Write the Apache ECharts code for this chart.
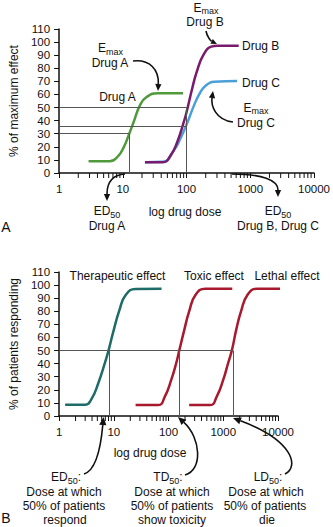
<!DOCTYPE html>
<html><head><meta charset="utf-8">
<script src="https://cdn.jsdelivr.net/npm/echarts@6/dist/echarts.min.js"></script>
<style>html,body{margin:0;padding:0;background:#fff}#c{width:333px;height:527px}</style>
</head><body><div id="c"></div>
<script>
const FONT = '"Liberation Sans", Arial, Helvetica, sans-serif';
const INK = '#111';

// ---- data ----
const xTickLabels = [1, 10, 100, 1000, 10000];
const yTickStep = 10;
const minorTicks = [2,3,4,5,6,7,8,9,20,30,40,50,60,70,80,90,200,300,400,500,600,700,800,900,2000,3000,4000,5000,6000,7000,8000,9000];

// Panel A: % of maximum effect vs dose
const drugADose   = [2.9, 6.2, 8.3, 10.4, 12.4, 14.8, 18.7, 23.6, 35.6, 88];
const drugAEffect = [9, 9, 12.5, 20, 29, 39, 52, 58, 61, 61];
const drugBDose   = [22.3, 42.4, 56.8, 71.7, 90.6, 101.8, 121, 144, 183, 244, 309, 658];
const drugBEffect = [8.2, 8.2, 13.7, 23.9, 39, 48, 63.4, 77, 90, 96.5, 97.3, 97.3];
const drugCDose   = [22.3, 42.4, 63.8, 80.5, 102, 128.6, 162, 205, 274, 622];
const drugCEffect = [8.2, 8.5, 17.6, 26.5, 38, 50.7, 61, 67.2, 69.7, 70.3];
const ed50A = 12.6, ed50BC = 100;
const levelA = 30, levelC = 36, levelB = 50;

// Panel B: % of patients responding vs dose
const therDose = [1.29, 3.0, 3.97, 5.2, 6.85, 8.07, 9.63, 12.7, 16.6, 25, 74.5];
const therPct  = [8.6, 8.6, 13.5, 25, 40.3, 50.5, 63.3, 81, 92.6, 97, 97.2];
const toxDose  = [25, 65, 85.5, 112, 138, 158, 194, 238, 312, 470, 1460];
const toxPct   = [8.4, 8.4, 14.8, 27.6, 40.3, 50.5, 65.8, 79.9, 92.6, 97.2, 97.2];
const lethDose = [238, 577, 759, 997, 1224, 1443, 1722, 2110, 2780, 4180, 13300];
const lethPct  = [8.4, 8.4, 14.8, 27.6, 40.3, 50.5, 65.8, 79.9, 92.6, 97.2, 97.2];
const ed50Ther = 8.1, td50 = 158, ld50 = 1500, levelPatients = 50;

// ---- helpers ----
const zip = (xs, ys) => xs.map((x, i) => [x, ys[i]]);
const axisLine = {show: true, lineStyle: {color: INK, width: 1.5}};
const measureCtx = document.createElement('canvas').getContext('2d');
function textWidth(s, size) { measureCtx.font = size + 'px ' + FONT; return measureCtx.measureText(s).width; }

function xAxisFor(grid) {
  return {type: 'log', logBase: 10, min: xTickLabels[0], max: xTickLabels[xTickLabels.length - 1], gridIndex: grid,
    axisLine, axisTick: {show: true, length: 5, lineStyle: {color: INK, width: 1}},
    axisLabel: {fontSize: 11.5, fontFamily: FONT, color: INK, margin: 10, formatter: v => String(Math.round(v))},
    splitLine: {show: false}};
}
function yAxisFor(grid, name) {
  return {type: 'value', min: 0, max: 110, interval: yTickStep, gridIndex: grid, name, nameLocation: 'middle', nameGap: 38,
    nameTextStyle: {fontSize: 12, fontFamily: FONT, color: INK},
    axisLine, axisTick: {show: true, length: 5, lineStyle: {color: INK, width: 1}},
    axisLabel: {fontSize: 11.5, fontFamily: FONT, color: INK, margin: 9}, splitLine: {show: false}};
}
function curve(name, grid, xs, ys, color, extra) {
  return Object.assign({type: 'line', name, xAxisIndex: grid, yAxisIndex: grid, data: zip(xs, ys), symbol: 'none',
    smooth: 0.5, lineStyle: {color, width: 2.5}, silent: true}, extra || {});
}
function refLines(segs) {
  return {silent: true, symbol: 'none', label: {show: false}, lineStyle: {color: '#555', width: 1, type: 'solid'},
    data: segs.map(s => [{coord: s[0]}, {coord: s[1]}])};
}
function minorTickSeries(grid) {
  return {type: 'custom', xAxisIndex: grid, yAxisIndex: grid, silent: true, clip: false,
    data: minorTicks.map(v => [v, 0]),
    renderItem: (params, api) => {
      const p = api.coord([api.value(0), api.value(1)]);
      return {type: 'line', shape: {x1: p[0], y1: p[1], x2: p[0], y2: p[1] + 5}, style: {stroke: INK, lineWidth: 1}};
    }};
}
function txt(x, y, text, opts) {
  const size = (opts && opts.fontSize) || 12;
  return {type: 'text', x, y, silent: true, style: Object.assign({text, fill: INK, fontSize: size, fontFamily: FONT, lineHeight: size, align: 'center', verticalAlign: 'middle'}, opts || {})};
}
// main text with subscript (and optional tail), centred on cx, main-text centre at cy
function subTxt(cx, cy, main, sub, tail) {
  const wm = textWidth(main, 12), ws = textWidth(sub, 9), wt = tail ? textWidth(tail, 12) : 0;
  const x0 = cx - (wm + ws + wt) / 2;
  const out = [txt(x0, cy, main, {align: 'left'}), txt(x0 + wm, cy + 3.5, sub, {align: 'left', fontSize: 9})];
  if (tail) out.push(txt(x0 + wm + ws, cy, tail, {align: 'left'}));
  return out;
}
function arrow(p0, c1, c2, p1, head) {
  head = head || 7;
  const dx = p1[0] - c2[0], dy = p1[1] - c2[1], L = Math.hypot(dx, dy), ux = dx / L, uy = dy / L;
  const b = [p1[0] - ux * head, p1[1] - uy * head], w = head * 0.45;
  return [
    {type: 'bezierCurve', silent: true, shape: {x1: p0[0], y1: p0[1], cpx1: c1[0], cpy1: c1[1], cpx2: c2[0], cpy2: c2[1], x2: b[0], y2: b[1]},
      style: {stroke: INK, lineWidth: 1.6, fill: null}},
    {type: 'polygon', silent: true, shape: {points: [p1, [b[0] - uy * w, b[1] + ux * w], [b[0] + uy * w, b[1] - ux * w]]}, style: {fill: INK}}
  ];
}

const graphics = [
  // Panel A
  ...subTxt(110.5, 48, 'E', 'max'), txt(110, 62.5, 'Drug A'),
  ...subTxt(206, 7.5, 'E', 'max'), txt(205, 22, 'Drug B'),
  txt(117.5, 97, 'Drug A'),
  txt(242, 46, 'Drug B', {align: 'left'}),
  txt(242, 83, 'Drug C', {align: 'left'}),
  ...subTxt(256, 107.5, 'E', 'max'), txt(256, 123, 'Drug C'),
  ...subTxt(107, 211, 'ED', '50'), txt(107, 226, 'Drug A'),
  txt(185, 212, 'log drug dose'),
  ...subTxt(278, 211, 'ED', '50'), txt(278, 226, 'Drug B, Drug C'),
  txt(6, 227, 'A', {fontSize: 14}),
  ...arrow([133, 61], [150, 59], [159, 70], [158, 91]),
  ...arrow([206, 31], [207, 37], [211, 41], [217, 44], 6),
  ...arrow([233, 122], [215, 120], [211, 105], [213, 91]),
  ...arrow([125, 174], [112, 175], [107, 183], [107, 201]),
  ...arrow([232, 174], [262, 174], [278, 180], [278, 197]),
  // Panel B
  txt(117.5, 276, 'Therapeutic effect'),
  txt(214, 276, 'Toxic effect'),
  txt(287, 276, 'Lethal effect'),
  txt(150, 453, 'log drug dose'),
  ...subTxt(66, 477, 'ED', '50', ':'), txt(64, 492, 'Dose at which'), txt(64, 506, '50% of patients'), txt(65, 520, 'respond'),
  ...subTxt(168, 477, 'TD', '50', ':'), txt(172, 492, 'Dose at which'), txt(172, 506, '50% of patients'), txt(172, 520, 'show toxicity'),
  ...subTxt(268, 477, 'LD', '50', ':'), txt(266, 492, 'Dose at which'), txt(265, 506, '50% of patients'), txt(267, 520, 'die'),
  txt(6, 518, 'B', {fontSize: 14}),
  ...arrow([84, 474], [97, 470], [101, 445], [103.5, 417], 8),
  ...arrow([185, 475], [203, 470], [201, 438], [178, 417], 8),
  ...arrow([285, 474], [300, 466], [292, 440], [233, 418], 8)
];

const chart = echarts.init(document.getElementById('c'), null, {renderer: 'svg'});
chart.setOption({
  animation: false,
  backgroundColor: '#fff',
  grid: [
    {left: 53, top: 29, width: 263, height: 144},
    {left: 53, top: 272, width: 225, height: 144}
  ],
  xAxis: [xAxisFor(0), xAxisFor(1)],
  yAxis: [yAxisFor(0, '% of maximum effect'), yAxisFor(1, '% of patients responding')],
  series: [
    curve('Drug A', 0, drugADose, drugAEffect, '#4f9a3b', {markLine: refLines([
      [[1, levelA], [ed50A, levelA]], [[ed50A, levelA], [ed50A, 0]],
      [[1, levelC], [ed50BC, levelC]],
      [[1, levelB], [ed50BC, levelB]], [[ed50BC, levelB], [ed50BC, 0]]
    ])}),
    curve('Drug C', 0, drugCDose, drugCEffect, '#4a9fd8'),
    curve('Drug B', 0, drugBDose, drugBEffect, '#7a1a6f'),
    minorTickSeries(0),
    curve('Therapeutic effect', 1, therDose, therPct, '#1e6b68', {markLine: refLines([
      [[1, levelPatients], [ld50, levelPatients]],
      [[ed50Ther, levelPatients], [ed50Ther, 0]],
      [[td50, levelPatients], [td50, 0]],
      [[ld50, levelPatients], [ld50, 0]]
    ])}),
    curve('Toxic effect', 1, toxDose, toxPct, '#a8192e'),
    curve('Lethal effect', 1, lethDose, lethPct, '#a8192e', {clip: false}),
    minorTickSeries(1)
  ],
  graphic: graphics
});
</script></body></html>
